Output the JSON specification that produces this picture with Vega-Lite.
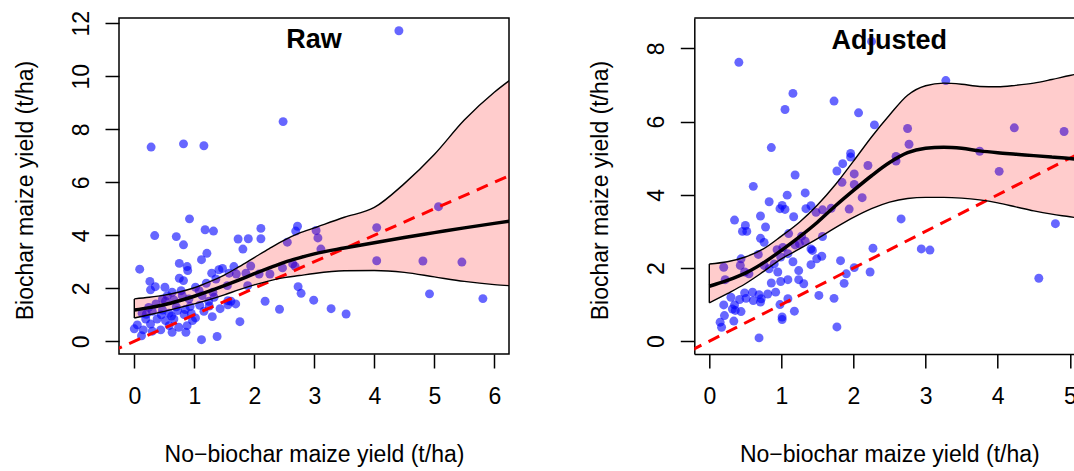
{
  "$schema": "https://vega.github.io/schema/vega-lite/v6.json",
  "background": "white",
  "padding": {"left": 13, "top": 9, "right": 0, "bottom": 0},
  "spacing": 185.3,
  "bounds": "flush",
  "config": {
    "font": "Liberation Sans",
    "view": {"stroke": "black", "strokeWidth": 1.5},
    "axis": {
      "grid": false,
      "domain": false,
      "tickColor": "black",
      "tickWidth": 1.5,
      "tickSize": 14,
      "labelColor": "black",
      "labelFont": "Liberation Sans",
      "labelFontSize": 23,
      "labelOverlap": false,
      "labelFlush": false,
      "format": "d",
      "titleFont": "Liberation Sans",
      "titleFontSize": 23,
      "titleFontWeight": "normal",
      "titleColor": "black"
    },
    "title": {"font": "Liberation Sans", "fontSize": 27, "fontWeight": "bold", "color": "black"}
  },
  "datasets": {
    "rawPts": [
      {"nobiochar": 0.34, "biochar": 3.99}, {"nobiochar": 0.70, "biochar": 3.95}, {"nobiochar": 1.18, "biochar": 4.21},
      {"nobiochar": 1.32, "biochar": 4.16}, {"nobiochar": 0.82, "biochar": 3.64}, {"nobiochar": 1.73, "biochar": 3.86},
      {"nobiochar": 1.90, "biochar": 3.87}, {"nobiochar": 2.11, "biochar": 3.87}, {"nobiochar": 2.11, "biochar": 4.26},
      {"nobiochar": 1.81, "biochar": 3.48}, {"nobiochar": 2.69, "biochar": 4.16}, {"nobiochar": 2.72, "biochar": 4.34},
      {"nobiochar": 1.21, "biochar": 3.32}, {"nobiochar": 1.12, "biochar": 3.08}, {"nobiochar": 0.75, "biochar": 2.94},
      {"nobiochar": 0.88, "biochar": 2.82}, {"nobiochar": 0.89, "biochar": 2.67}, {"nobiochar": 0.09, "biochar": 2.72},
      {"nobiochar": 1.29, "biochar": 2.57}, {"nobiochar": 1.41, "biochar": 2.70}, {"nobiochar": 1.47, "biochar": 2.75},
      {"nobiochar": 1.58, "biochar": 2.57}, {"nobiochar": 1.94, "biochar": 2.84}, {"nobiochar": 2.26, "biochar": 2.54},
      {"nobiochar": 2.47, "biochar": 2.77}, {"nobiochar": 2.64, "biochar": 2.92}, {"nobiochar": 0.26, "biochar": 2.26},
      {"nobiochar": 0.35, "biochar": 2.06}, {"nobiochar": 0.27, "biochar": 1.94}, {"nobiochar": 0.51, "biochar": 2.04},
      {"nobiochar": 0.75, "biochar": 2.38}, {"nobiochar": 0.82, "biochar": 2.29}, {"nobiochar": 0.78, "biochar": 1.91},
      {"nobiochar": 1.70, "biochar": 2.54}, {"nobiochar": 1.86, "biochar": 2.57}, {"nobiochar": 1.89, "biochar": 2.10},
      {"nobiochar": 1.55, "biochar": 2.10}, {"nobiochar": 0.63, "biochar": 1.85}, {"nobiochar": 0.55, "biochar": 1.72},
      {"nobiochar": 0.47, "biochar": 1.60}, {"nobiochar": 0.66, "biochar": 1.56}, {"nobiochar": 0.80, "biochar": 1.72},
      {"nobiochar": 0.91, "biochar": 1.60}, {"nobiochar": 0.93, "biochar": 1.31}, {"nobiochar": 1.09, "biochar": 1.36},
      {"nobiochar": 1.24, "biochar": 1.51}, {"nobiochar": 1.25, "biochar": 1.33}, {"nobiochar": 1.13, "biochar": 1.72},
      {"nobiochar": 1.08, "biochar": 1.91}, {"nobiochar": 1.43, "biochar": 1.23}, {"nobiochar": 1.61, "biochar": 1.51},
      {"nobiochar": 2.18, "biochar": 1.51}, {"nobiochar": 2.42, "biochar": 1.21}, {"nobiochar": 0.36, "biochar": 1.41},
      {"nobiochar": 0.24, "biochar": 1.28}, {"nobiochar": 0.13, "biochar": 1.06}, {"nobiochar": 0.30, "biochar": 1.13},
      {"nobiochar": 0.47, "biochar": 1.18}, {"nobiochar": 0.58, "biochar": 1.06}, {"nobiochar": 0.72, "biochar": 1.16},
      {"nobiochar": 0.83, "biochar": 1.01}, {"nobiochar": 0.19, "biochar": 0.84}, {"nobiochar": 0.38, "biochar": 0.84},
      {"nobiochar": 0.52, "biochar": 0.78}, {"nobiochar": 0.66, "biochar": 0.84}, {"nobiochar": 0.97, "biochar": 0.78},
      {"nobiochar": 0.88, "biochar": 0.59}, {"nobiochar": 0.74, "biochar": 0.53}, {"nobiochar": 0.58, "biochar": 0.59},
      {"nobiochar": 1.30, "biochar": 0.93}, {"nobiochar": 1.76, "biochar": 0.74}, {"nobiochar": 1.02, "biochar": 0.88},
      {"nobiochar": 1.16, "biochar": 1.13}, {"nobiochar": 0.27, "biochar": 0.65}, {"nobiochar": 0.00, "biochar": 0.47},
      {"nobiochar": 0.12, "biochar": 0.21}, {"nobiochar": 0.15, "biochar": 0.43}, {"nobiochar": 0.30, "biochar": 0.38},
      {"nobiochar": 1.12, "biochar": 0.06}, {"nobiochar": 1.38, "biochar": 0.18}, {"nobiochar": 0.63, "biochar": 0.34},
      {"nobiochar": 0.44, "biochar": 0.43}, {"nobiochar": 0.86, "biochar": 0.34}, {"nobiochar": 1.02, "biochar": 2.04},
      {"nobiochar": 1.20, "biochar": 2.19}, {"nobiochar": 1.36, "biochar": 2.35}, {"nobiochar": 1.66, "biochar": 2.82},
      {"nobiochar": 2.08, "biochar": 2.54}, {"nobiochar": 0.52, "biochar": 1.51}, {"nobiochar": 1.56, "biochar": 1.38},
      {"nobiochar": 1.69, "biochar": 1.41}, {"nobiochar": 1.56, "biochar": 1.53}, {"nobiochar": 1.33, "biochar": 1.66},
      {"nobiochar": 1.31, "biochar": 1.85}, {"nobiochar": 0.45, "biochar": 1.00}, {"nobiochar": 0.62, "biochar": 0.95},
      {"nobiochar": 0.20, "biochar": 1.02}, {"nobiochar": 0.05, "biochar": 0.62}, {"nobiochar": 0.95, "biochar": 1.05},
      {"nobiochar": 0.70, "biochar": 1.30}, {"nobiochar": 0.85, "biochar": 1.20},
      {"nobiochar": 2.55, "biochar": 3.74}, {"nobiochar": 3.03, "biochar": 4.18}, {"nobiochar": 3.06, "biochar": 3.90},
      {"nobiochar": 3.11, "biochar": 3.48}, {"nobiochar": 4.04, "biochar": 4.29}, {"nobiochar": 5.07, "biochar": 5.08},
      {"nobiochar": 4.04, "biochar": 3.04}, {"nobiochar": 4.81, "biochar": 3.03}, {"nobiochar": 5.46, "biochar": 2.99},
      {"nobiochar": 2.68, "biochar": 2.83}, {"nobiochar": 2.73, "biochar": 2.06}, {"nobiochar": 2.78, "biochar": 1.81},
      {"nobiochar": 2.99, "biochar": 1.55}, {"nobiochar": 3.28, "biochar": 1.23}, {"nobiochar": 3.53, "biochar": 1.03},
      {"nobiochar": 4.92, "biochar": 1.79}, {"nobiochar": 5.81, "biochar": 1.61}, {"nobiochar": 4.41, "biochar": 11.72},
      {"nobiochar": 2.48, "biochar": 8.29}, {"nobiochar": 0.28, "biochar": 7.33}, {"nobiochar": 0.82, "biochar": 7.45},
      {"nobiochar": 1.16, "biochar": 7.38}, {"nobiochar": 0.92, "biochar": 4.62}
    ],
    "rawFit": [
      {"nobiochar": 0.0, "lo": 0.88, "fit": 1.18, "hi": 1.60},
      {"nobiochar": 0.25, "lo": 1.00, "fit": 1.27, "hi": 1.66},
      {"nobiochar": 0.5, "lo": 1.13, "fit": 1.38, "hi": 1.74},
      {"nobiochar": 0.75, "lo": 1.27, "fit": 1.53, "hi": 1.86},
      {"nobiochar": 1.0, "lo": 1.41, "fit": 1.70, "hi": 2.02},
      {"nobiochar": 1.25, "lo": 1.57, "fit": 1.89, "hi": 2.24},
      {"nobiochar": 1.5, "lo": 1.75, "fit": 2.10, "hi": 2.50},
      {"nobiochar": 1.75, "lo": 1.95, "fit": 2.32, "hi": 2.82},
      {"nobiochar": 2.0, "lo": 2.13, "fit": 2.55, "hi": 3.16},
      {"nobiochar": 2.25, "lo": 2.28, "fit": 2.77, "hi": 3.50},
      {"nobiochar": 2.5, "lo": 2.40, "fit": 2.98, "hi": 3.82},
      {"nobiochar": 2.75, "lo": 2.48, "fit": 3.15, "hi": 4.08},
      {"nobiochar": 3.0, "lo": 2.56, "fit": 3.30, "hi": 4.28},
      {"nobiochar": 3.5, "lo": 2.66, "fit": 3.52, "hi": 4.68},
      {"nobiochar": 4.0, "lo": 2.67, "fit": 3.72, "hi": 5.05},
      {"nobiochar": 4.5, "lo": 2.60, "fit": 3.92, "hi": 5.95},
      {"nobiochar": 5.0, "lo": 2.43, "fit": 4.10, "hi": 7.05},
      {"nobiochar": 5.5, "lo": 2.26, "fit": 4.28, "hi": 8.35},
      {"nobiochar": 6.0, "lo": 2.14, "fit": 4.45, "hi": 9.40},
      {"nobiochar": 6.25, "lo": 2.10, "fit": 4.53, "hi": 9.84}
    ],
    "adjPts": [
      {"nobiochar": 2.25, "biochar": 8.19}, {"nobiochar": 0.41, "biochar": 7.62}, {"nobiochar": 3.28, "biochar": 7.12},
      {"nobiochar": 1.16, "biochar": 6.77}, {"nobiochar": 1.05, "biochar": 6.33}, {"nobiochar": 1.73, "biochar": 6.56},
      {"nobiochar": 2.07, "biochar": 6.24}, {"nobiochar": 2.29, "biochar": 5.91}, {"nobiochar": 2.75, "biochar": 5.81},
      {"nobiochar": 2.77, "biochar": 5.38}, {"nobiochar": 4.23, "biochar": 5.83}, {"nobiochar": 4.92, "biochar": 5.73},
      {"nobiochar": 3.75, "biochar": 5.19}, {"nobiochar": 4.02, "biochar": 4.64}, {"nobiochar": 2.59, "biochar": 5.05},
      {"nobiochar": 2.59, "biochar": 4.92}, {"nobiochar": 2.20, "biochar": 4.80}, {"nobiochar": 1.96, "biochar": 5.13},
      {"nobiochar": 1.96, "biochar": 5.03}, {"nobiochar": 1.85, "biochar": 4.85}, {"nobiochar": 1.77, "biochar": 4.65},
      {"nobiochar": 2.01, "biochar": 4.57}, {"nobiochar": 1.84, "biochar": 4.34}, {"nobiochar": 2.01, "biochar": 4.28},
      {"nobiochar": 2.12, "biochar": 3.92}, {"nobiochar": 1.94, "biochar": 3.61}, {"nobiochar": 1.69, "biochar": 3.63},
      {"nobiochar": 1.57, "biochar": 3.59}, {"nobiochar": 1.48, "biochar": 3.52}, {"nobiochar": 1.41, "biochar": 3.70},
      {"nobiochar": 1.34, "biochar": 3.62}, {"nobiochar": 1.33, "biochar": 4.05}, {"nobiochar": 1.19, "biochar": 4.54},
      {"nobiochar": 1.08, "biochar": 3.99}, {"nobiochar": 0.86, "biochar": 5.29}, {"nobiochar": 0.61, "biochar": 4.23},
      {"nobiochar": 0.83, "biochar": 3.81}, {"nobiochar": 0.98, "biochar": 3.62}, {"nobiochar": 1.01, "biochar": 3.71},
      {"nobiochar": 1.05, "biochar": 3.60}, {"nobiochar": 1.17, "biochar": 3.40}, {"nobiochar": 0.71, "biochar": 3.42},
      {"nobiochar": 0.78, "biochar": 3.12}, {"nobiochar": 0.35, "biochar": 3.31}, {"nobiochar": 0.50, "biochar": 3.16},
      {"nobiochar": 0.46, "biochar": 3.00}, {"nobiochar": 0.52, "biochar": 3.00}, {"nobiochar": 0.71, "biochar": 2.81},
      {"nobiochar": 0.76, "biochar": 2.70}, {"nobiochar": 1.10, "biochar": 2.94}, {"nobiochar": 1.28, "biochar": 2.87},
      {"nobiochar": 1.57, "biochar": 2.86}, {"nobiochar": 1.25, "biochar": 2.66}, {"nobiochar": 1.19, "biochar": 2.63},
      {"nobiochar": 1.33, "biochar": 2.73}, {"nobiochar": 1.41, "biochar": 2.52}, {"nobiochar": 1.43, "biochar": 2.48},
      {"nobiochar": 0.68, "biochar": 2.37}, {"nobiochar": 0.94, "biochar": 2.50}, {"nobiochar": 1.02, "biochar": 2.56},
      {"nobiochar": 1.09, "biochar": 2.39}, {"nobiochar": 0.99, "biochar": 2.30}, {"nobiochar": 0.44, "biochar": 2.25},
      {"nobiochar": 0.20, "biochar": 2.02}, {"nobiochar": 0.43, "biochar": 2.07}, {"nobiochar": 0.22, "biochar": 1.68},
      {"nobiochar": 0.49, "biochar": 1.89}, {"nobiochar": 0.55, "biochar": 1.84}, {"nobiochar": 0.76, "biochar": 2.07},
      {"nobiochar": 0.83, "biochar": 1.98}, {"nobiochar": 0.90, "biochar": 2.11}, {"nobiochar": 0.95, "biochar": 1.89},
      {"nobiochar": 1.16, "biochar": 2.17}, {"nobiochar": 1.24, "biochar": 1.93}, {"nobiochar": 1.24, "biochar": 1.68},
      {"nobiochar": 1.31, "biochar": 1.57}, {"nobiochar": 1.49, "biochar": 2.25}, {"nobiochar": 1.56, "biochar": 2.32},
      {"nobiochar": 1.41, "biochar": 2.09}, {"nobiochar": 1.82, "biochar": 2.20}, {"nobiochar": 2.27, "biochar": 2.54},
      {"nobiochar": 2.01, "biochar": 2.01}, {"nobiochar": 1.90, "biochar": 1.84}, {"nobiochar": 1.87, "biochar": 1.58},
      {"nobiochar": 2.23, "biochar": 1.89}, {"nobiochar": 2.66, "biochar": 3.34}, {"nobiochar": 2.94, "biochar": 2.52},
      {"nobiochar": 3.06, "biochar": 2.49}, {"nobiochar": 4.80, "biochar": 3.21}, {"nobiochar": 4.57, "biochar": 1.72},
      {"nobiochar": 1.52, "biochar": 1.25}, {"nobiochar": 1.73, "biochar": 1.17}, {"nobiochar": 1.77, "biochar": 0.39},
      {"nobiochar": 0.69, "biochar": 0.09}, {"nobiochar": 1.18, "biochar": 0.82}, {"nobiochar": 1.01, "biochar": 0.66},
      {"nobiochar": 1.01, "biochar": 0.59}, {"nobiochar": 0.98, "biochar": 1.00}, {"nobiochar": 1.09, "biochar": 1.16},
      {"nobiochar": 0.99, "biochar": 1.63}, {"nobiochar": 1.09, "biochar": 1.68}, {"nobiochar": 0.86, "biochar": 1.59},
      {"nobiochar": 0.81, "biochar": 1.29}, {"nobiochar": 0.92, "biochar": 1.34}, {"nobiochar": 0.60, "biochar": 1.34},
      {"nobiochar": 0.69, "biochar": 1.27}, {"nobiochar": 0.72, "biochar": 1.16}, {"nobiochar": 0.71, "biochar": 1.07},
      {"nobiochar": 0.61, "biochar": 1.11}, {"nobiochar": 0.51, "biochar": 1.17}, {"nobiochar": 0.49, "biochar": 1.32},
      {"nobiochar": 0.42, "biochar": 1.14}, {"nobiochar": 0.30, "biochar": 1.20}, {"nobiochar": 0.35, "biochar": 0.99},
      {"nobiochar": 0.20, "biochar": 0.99}, {"nobiochar": 0.36, "biochar": 0.84}, {"nobiochar": 0.44, "biochar": 0.81},
      {"nobiochar": 0.32, "biochar": 0.88}, {"nobiochar": 0.21, "biochar": 0.70}, {"nobiochar": 0.34, "biochar": 0.55},
      {"nobiochar": 0.15, "biochar": 0.52}, {"nobiochar": 0.17, "biochar": 0.38}
    ],
    "adjFit": [
      {"nobiochar": 0.0, "lo": 1.05, "fit": 1.50, "hi": 2.11},
      {"nobiochar": 0.25, "lo": 1.30, "fit": 1.66, "hi": 2.17},
      {"nobiochar": 0.5, "lo": 1.57, "fit": 1.86, "hi": 2.30},
      {"nobiochar": 0.75, "lo": 1.90, "fit": 2.14, "hi": 2.52},
      {"nobiochar": 1.0, "lo": 2.25, "fit": 2.48, "hi": 2.87},
      {"nobiochar": 1.25, "lo": 2.52, "fit": 2.85, "hi": 3.25},
      {"nobiochar": 1.5, "lo": 2.80, "fit": 3.25, "hi": 3.72},
      {"nobiochar": 1.75, "lo": 3.10, "fit": 3.70, "hi": 4.28},
      {"nobiochar": 2.0, "lo": 3.38, "fit": 4.12, "hi": 4.92},
      {"nobiochar": 2.25, "lo": 3.62, "fit": 4.52, "hi": 5.58},
      {"nobiochar": 2.5, "lo": 3.80, "fit": 4.88, "hi": 6.18},
      {"nobiochar": 2.75, "lo": 3.90, "fit": 5.15, "hi": 6.72},
      {"nobiochar": 3.0, "lo": 3.93, "fit": 5.27, "hi": 6.98},
      {"nobiochar": 3.25, "lo": 3.93, "fit": 5.30, "hi": 7.05},
      {"nobiochar": 3.5, "lo": 3.91, "fit": 5.27, "hi": 7.02},
      {"nobiochar": 3.75, "lo": 3.86, "fit": 5.20, "hi": 6.96},
      {"nobiochar": 4.0, "lo": 3.78, "fit": 5.15, "hi": 6.95},
      {"nobiochar": 4.25, "lo": 3.67, "fit": 5.11, "hi": 6.99},
      {"nobiochar": 4.5, "lo": 3.56, "fit": 5.07, "hi": 7.05},
      {"nobiochar": 4.75, "lo": 3.47, "fit": 5.03, "hi": 7.15},
      {"nobiochar": 5.0, "lo": 3.40, "fit": 4.99, "hi": 7.26},
      {"nobiochar": 5.1, "lo": 3.37, "fit": 4.97, "hi": 7.30}
    ],
    "oneToOne": [
      {"nobiochar": -1, "biochar": -1},
      {"nobiochar": 13, "biochar": 13}
    ]
  },
  "hconcat": [
    {
      "width": 390,
      "height": 336,
      "title": {"text": "Raw", "offset": -64, "baseline": "alphabetic", "anchor": "middle", "frame": "group"},
      "layer": [
        {
          "data": {"name": "rawPts"},
          "mark": {"type": "circle", "color": "#0000FF", "opacity": 0.6, "size": 80, "clip": true},
          "encoding": {
            "x": {"field": "nobiochar", "type": "quantitative", "scale": {"domain": [-0.255, 6.245], "nice": false, "zero": false},
              "axis": {"values": [0, 1, 2, 3, 4, 5, 6], "title": "No\u2212biochar maize yield (t/ha)", "labelBaseline": "alphabetic", "labelPadding": 35, "titleX": 195, "titleY": 107, "titleBaseline": "alphabetic", "titleAlign": "center"}},
            "y": {"field": "biochar", "type": "quantitative", "scale": {"domain": [-0.48, 12.2], "nice": false, "zero": false},
              "axis": {"values": [0, 2, 4, 6, 8, 10, 12], "title": "Biochar maize yield (t/ha)", "labelAngle": -90, "labelAlign": "center", "labelBaseline": "alphabetic", "labelPadding": 17, "titleAngle": -90, "titleX": -86.5, "titleY": 172, "titleBaseline": "alphabetic", "titleAlign": "center"}}
          }
        },
        {
          "data": {"name": "oneToOne"},
          "mark": {"type": "line", "color": "#FF0000", "strokeWidth": 3, "strokeDash": [12, 8], "clip": true},
          "encoding": {
            "x": {"field": "nobiochar", "type": "quantitative", "scale": {"domain": [-0.255, 6.245], "nice": false, "zero": false}},
            "y": {"field": "biochar", "type": "quantitative", "scale": {"domain": [-0.48, 12.2], "nice": false, "zero": false}}
          }
        },
        {
          "data": {"name": "rawFit"},
          "mark": {"type": "area", "color": "#FF0000", "opacity": 0.2, "interpolate": "monotone", "clip": true},
          "encoding": {
            "x": {"field": "nobiochar", "type": "quantitative", "scale": {"domain": [-0.255, 6.245], "nice": false, "zero": false}},
            "y": {"field": "lo", "type": "quantitative", "scale": {"domain": [-0.48, 12.2], "nice": false, "zero": false}},
            "y2": {"field": "hi"}
          }
        },
        {
          "data": {"name": "rawFit"},
          "mark": {"type": "line", "color": "black", "strokeWidth": 1.4, "interpolate": "monotone", "clip": true},
          "encoding": {
            "x": {"field": "nobiochar", "type": "quantitative", "scale": {"domain": [-0.255, 6.245], "nice": false, "zero": false}},
            "y": {"field": "lo", "type": "quantitative", "scale": {"domain": [-0.48, 12.2], "nice": false, "zero": false}}
          }
        },
        {
          "data": {"name": "rawFit"},
          "mark": {"type": "line", "color": "black", "strokeWidth": 1.4, "interpolate": "monotone", "clip": true},
          "encoding": {
            "x": {"field": "nobiochar", "type": "quantitative", "scale": {"domain": [-0.255, 6.245], "nice": false, "zero": false}},
            "y": {"field": "hi", "type": "quantitative", "scale": {"domain": [-0.48, 12.2], "nice": false, "zero": false}}
          }
        },
        {
          "data": {"name": "rawFit"},
          "transform": [{"filter": "datum.nobiochar == 0"}],
          "mark": {"type": "rule", "color": "black", "strokeWidth": 1.4, "clip": true},
          "encoding": {
            "x": {"field": "nobiochar", "type": "quantitative", "scale": {"domain": [-0.255, 6.245], "nice": false, "zero": false}},
            "y": {"field": "lo", "type": "quantitative", "scale": {"domain": [-0.48, 12.2], "nice": false, "zero": false}},
            "y2": {"field": "hi"}
          }
        },
        {
          "data": {"name": "rawFit"},
          "mark": {"type": "line", "color": "black", "strokeWidth": 3.5, "interpolate": "monotone", "clip": true},
          "encoding": {
            "x": {"field": "nobiochar", "type": "quantitative", "scale": {"domain": [-0.255, 6.245], "nice": false, "zero": false}},
            "y": {"field": "fit", "type": "quantitative", "scale": {"domain": [-0.48, 12.2], "nice": false, "zero": false}}
          }
        }
      ]
    },
    {
      "width": 380,
      "height": 336,
      "view": {"stroke": null},
      "title": {"text": "Adjusted", "offset": -59, "baseline": "alphabetic", "anchor": "middle", "frame": "group", "dx": 5},
      "layer": [
        {
          "data": {"name": "adjPts"},
          "mark": {"type": "circle", "color": "#0000FF", "opacity": 0.6, "size": 80, "clip": true},
          "encoding": {
            "x": {"field": "nobiochar", "type": "quantitative", "scale": {"domain": [-0.208, 5.062], "nice": false, "zero": false},
              "axis": {"values": [0, 1, 2, 3, 4, 5], "title": "No\u2212biochar maize yield (t/ha)", "domain": true, "domainColor": "black", "domainWidth": 1.5, "labelBaseline": "alphabetic", "labelPadding": 35, "titleX": 195, "titleY": 107, "titleBaseline": "alphabetic", "titleAlign": "center"}},
            "y": {"field": "biochar", "type": "quantitative", "scale": {"domain": [-0.35, 8.83], "nice": false, "zero": false},
              "axis": {"values": [0, 2, 4, 6, 8], "title": "Biochar maize yield (t/ha)", "domain": true, "domainColor": "black", "domainWidth": 1.5, "labelAngle": -90, "labelAlign": "center", "labelBaseline": "alphabetic", "labelPadding": 17, "titleAngle": -90, "titleX": -86.5, "titleY": 172, "titleBaseline": "alphabetic", "titleAlign": "center"}}
          }
        },
        {
          "data": {"name": "oneToOne"},
          "mark": {"type": "line", "color": "#FF0000", "strokeWidth": 3, "strokeDash": [12, 8], "clip": true},
          "encoding": {
            "x": {"field": "nobiochar", "type": "quantitative", "scale": {"domain": [-0.208, 5.062], "nice": false, "zero": false}},
            "y": {"field": "biochar", "type": "quantitative", "scale": {"domain": [-0.35, 8.83], "nice": false, "zero": false}}
          }
        },
        {
          "data": {"name": "adjFit"},
          "mark": {"type": "area", "color": "#FF0000", "opacity": 0.2, "interpolate": "monotone", "clip": true},
          "encoding": {
            "x": {"field": "nobiochar", "type": "quantitative", "scale": {"domain": [-0.208, 5.062], "nice": false, "zero": false}},
            "y": {"field": "lo", "type": "quantitative", "scale": {"domain": [-0.35, 8.83], "nice": false, "zero": false}},
            "y2": {"field": "hi"}
          }
        },
        {
          "data": {"name": "adjFit"},
          "mark": {"type": "line", "color": "black", "strokeWidth": 1.4, "interpolate": "monotone", "clip": true},
          "encoding": {
            "x": {"field": "nobiochar", "type": "quantitative", "scale": {"domain": [-0.208, 5.062], "nice": false, "zero": false}},
            "y": {"field": "lo", "type": "quantitative", "scale": {"domain": [-0.35, 8.83], "nice": false, "zero": false}}
          }
        },
        {
          "data": {"name": "adjFit"},
          "mark": {"type": "line", "color": "black", "strokeWidth": 1.4, "interpolate": "monotone", "clip": true},
          "encoding": {
            "x": {"field": "nobiochar", "type": "quantitative", "scale": {"domain": [-0.208, 5.062], "nice": false, "zero": false}},
            "y": {"field": "hi", "type": "quantitative", "scale": {"domain": [-0.35, 8.83], "nice": false, "zero": false}}
          }
        },
        {
          "data": {"name": "adjFit"},
          "transform": [{"filter": "datum.nobiochar == 0"}],
          "mark": {"type": "rule", "color": "black", "strokeWidth": 1.4, "clip": true},
          "encoding": {
            "x": {"field": "nobiochar", "type": "quantitative", "scale": {"domain": [-0.208, 5.062], "nice": false, "zero": false}},
            "y": {"field": "lo", "type": "quantitative", "scale": {"domain": [-0.35, 8.83], "nice": false, "zero": false}},
            "y2": {"field": "hi"}
          }
        },
        {
          "data": {"name": "adjFit"},
          "mark": {"type": "line", "color": "black", "strokeWidth": 3.5, "interpolate": "monotone", "clip": true},
          "encoding": {
            "x": {"field": "nobiochar", "type": "quantitative", "scale": {"domain": [-0.208, 5.062], "nice": false, "zero": false}},
            "y": {"field": "fit", "type": "quantitative", "scale": {"domain": [-0.35, 8.83], "nice": false, "zero": false}}
          }
        },
        {
          "data": {"values": [{}]},
          "mark": {"type": "rule", "color": "black", "strokeWidth": 1.5},
          "encoding": {
            "y": {"datum": 8.83, "type": "quantitative", "scale": {"domain": [-0.35, 8.83], "nice": false, "zero": false}}
          }
        }
      ]
    }
  ]
}
